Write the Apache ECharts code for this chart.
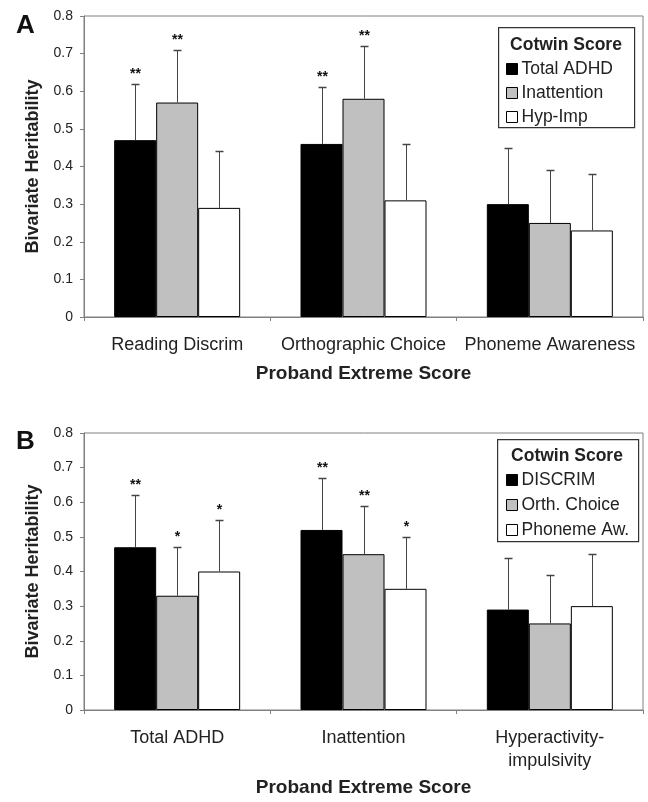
<!DOCTYPE html>
<html>
<head>
<meta charset="utf-8">
<script src="https://cdn.jsdelivr.net/npm/echarts@6/dist/echarts.min.js"></script>
<style>
html,body{margin:0;padding:0;background:#fff;}
#c{width:648px;height:802px;}
</style>
</head>
<body>
<div id="c"></div>
<script>
// ---------- Data ----------
const yTicks = [0, 0.1, 0.2, 0.3, 0.4, 0.5, 0.6, 0.7, 0.8];

const catsA = ['Reading Discrim', 'Orthographic Choice', 'Phoneme Awareness'];
const namesA = ['Total ADHD', 'Inattention', 'Hyp-Imp'];
const totalAdhdA = [0.47, 0.46, 0.30];
const inattentionA = [0.57, 0.58, 0.25];
const hypImpA = [0.29, 0.31, 0.23];
const totalAdhdUpA = [0.62, 0.61, 0.45];
const inattentionUpA = [0.71, 0.72, 0.39];
const hypImpUpA = [0.44, 0.46, 0.38];
const totalAdhdStarA = ['**', '**', ''];
const inattentionStarA = ['**', '**', ''];
const hypImpStarA = ['', '', ''];

const catsB = ['Total ADHD', 'Inattention', 'Hyperactivity-\nimpulsivity'];
const namesB = ['DISCRIM', 'Orth. Choice', 'Phoneme Aw.'];
const discrimB = [0.47, 0.52, 0.29];
const orthB = [0.33, 0.45, 0.25];
const phonemeB = [0.40, 0.35, 0.30];
const discrimUpB = [0.62, 0.67, 0.44];
const orthUpB = [0.47, 0.59, 0.39];
const phonemeUpB = [0.55, 0.50, 0.45];
const discrimStarB = ['**', '**', ''];
const orthStarB = ['*', '**', ''];
const phonemeStarB = ['*', '*', ''];

// ---------- Styling ----------
const fills = ['#000000', '#c0c0c0', '#ffffff'];
const BW = 42;
const axisGray = '#808080';
const textCol = '#222';
const FONT = 'Liberation Sans, Arial, sans-serif';

const chart = echarts.init(document.getElementById('c'), null, {renderer: 'canvas'});

function yAxisCfg(gi) {
  return {
    type: 'value', gridIndex: gi, min: 0, max: 0.8, interval: 0.1,
    name: 'Bivariate Heritability', nameLocation: 'middle', nameGap: 42,
    nameTextStyle: {fontFamily: FONT, fontWeight: 'bold', fontSize: 18, color: textCol},
    axisLine: {show: true, lineStyle: {color: axisGray, width: 1}},
    axisTick: {show: true, length: 4, lineStyle: {color: axisGray}},
    splitLine: {show: false},
    axisLabel: {
      margin: 11, fontFamily: FONT, fontSize: 14, color: textCol,
      formatter: v => {
        const t = yTicks.find(x => Math.abs(x - v) < 1e-6);
        return t === 0 ? '0' : (t !== undefined ? t.toFixed(1) : '');
      }
    }
  };
}

function xAxisCfg(gi, cats, gap) {
  return {
    type: 'category', gridIndex: gi, data: cats,
    name: 'Proband Extreme Score', nameLocation: 'middle', nameGap: gap,
    nameTextStyle: {fontFamily: FONT, fontWeight: 'bold', fontSize: 19, color: textCol},
    axisLine: {show: true, lineStyle: {color: axisGray, width: 1}},
    axisTick: {show: true, length: 4, lineStyle: {color: axisGray}},
    axisLabel: {interval: 0, margin: 17, fontFamily: FONT, fontSize: 18, color: textCol, lineHeight: 23}
  };
}

function barSeries(name, vals, idx, gi) {
  return {
    type: 'bar', name: name, xAxisIndex: gi, yAxisIndex: gi,
    data: vals, barWidth: BW, barGap: '0%',
    itemStyle: {color: fills[idx], borderColor: '#000', borderWidth: 1},
    emphasis: {disabled: true}, animation: false, z: 2
  };
}

function errSeries(vals, ups, stars, idx, gi) {
  return {
    type: 'custom', xAxisIndex: gi, yAxisIndex: gi, animation: false, z: 5,
    silent: true,
    data: vals.map((v, i) => [i, v, ups[i]]),
    renderItem: function (params, api) {
      const cat = api.value(0);
      const base = api.coord([cat, api.value(1)]);
      const top = api.coord([cat, api.value(2)]);
      const x = Math.round(base[0] + (idx - 1) * BW) + 0.5;
      const ty = Math.round(top[1]) + 0.5;
      const children = [
        {type: 'line', shape: {x1: x, y1: base[1], x2: x, y2: ty},
          style: {stroke: '#444', lineWidth: 1}},
        {type: 'line', shape: {x1: x - 4, y1: ty, x2: x + 4, y2: ty},
          style: {stroke: '#444', lineWidth: 1.5}}
      ];
      const s = stars[params.dataIndex];
      if (s) {
        children.push({type: 'text', x: x, y: ty - 3,
          style: {text: s, fontFamily: FONT, fontWeight: 'bold', fontSize: 14,
            fill: '#111', align: 'center', verticalAlign: 'bottom'}});
      }
      return {type: 'group', children: children};
    }
  };
}

function legendCfg(names, left, top, gap) {
  return {
    orient: 'vertical', left: left, top: top, itemGap: gap, padding: 0,
    icon: 'rect', itemWidth: 11, itemHeight: 11, selectedMode: false,
    textStyle: {fontFamily: FONT, fontSize: 17.5, color: textCol, padding: [0, 0, 0, -1]},
    data: names.map((n, i) => ({name: n, itemStyle: {color: fills[i], borderColor: '#000', borderWidth: 1}}))
  };
}

function legendBox(x, y, w, h) {
  return {type: 'rect', left: x, top: y, shape: {width: w, height: h},
    style: {fill: '#fff', stroke: '#333', lineWidth: 1.2}, z: 50};
}
function legendTitle(cx, y) {
  return {type: 'text', x: cx, y: y, z: 51,
    style: {text: 'Cotwin Score', fontFamily: FONT, fontWeight: 'bold', fontSize: 17.5,
      fill: textCol, align: 'center', verticalAlign: 'middle'}};
}

const option = {
  backgroundColor: '#fff',
  animation: false,
  grid: [
    {left: 84, top: 16, width: 559, height: 301, show: true, borderColor: axisGray, borderWidth: 1, backgroundColor: 'transparent'},
    {left: 84, top: 433, width: 559, height: 277, show: true, borderColor: axisGray, borderWidth: 1, backgroundColor: 'transparent'}
  ],
  xAxis: [xAxisCfg(0, catsA, 47), xAxisCfg(1, catsB, 68)],
  yAxis: [yAxisCfg(0), yAxisCfg(1)],
  legend: [
    Object.assign(legendCfg(namesA, 506, 60, 6), {z: 60}),
    Object.assign(legendCfg(namesB, 506, 471, 7), {z: 60})
  ],
  graphic: [
    legendBox(498, 27, 136, 100),
    legendTitle(566, 45),
    legendBox(497, 439, 141, 102),
    legendTitle(567, 456),
    {type: 'text', left: 16, top: 13, style: {text: 'A', fontFamily: FONT, fontWeight: 'bold', fontSize: 26, fill: '#111'}},
    {type: 'text', left: 16, top: 429, style: {text: 'B', fontFamily: FONT, fontWeight: 'bold', fontSize: 26, fill: '#111'}}
  ],
  series: [
    barSeries(namesA[0], totalAdhdA, 0, 0),
    barSeries(namesA[1], inattentionA, 1, 0),
    barSeries(namesA[2], hypImpA, 2, 0),
    errSeries(totalAdhdA, totalAdhdUpA, totalAdhdStarA, 0, 0),
    errSeries(inattentionA, inattentionUpA, inattentionStarA, 1, 0),
    errSeries(hypImpA, hypImpUpA, hypImpStarA, 2, 0),
    barSeries(namesB[0], discrimB, 0, 1),
    barSeries(namesB[1], orthB, 1, 1),
    barSeries(namesB[2], phonemeB, 2, 1),
    errSeries(discrimB, discrimUpB, discrimStarB, 0, 1),
    errSeries(orthB, orthUpB, orthStarB, 1, 1),
    errSeries(phonemeB, phonemeUpB, phonemeStarB, 2, 1)
  ]
};
chart.setOption(option);
</script>
</body>
</html>
